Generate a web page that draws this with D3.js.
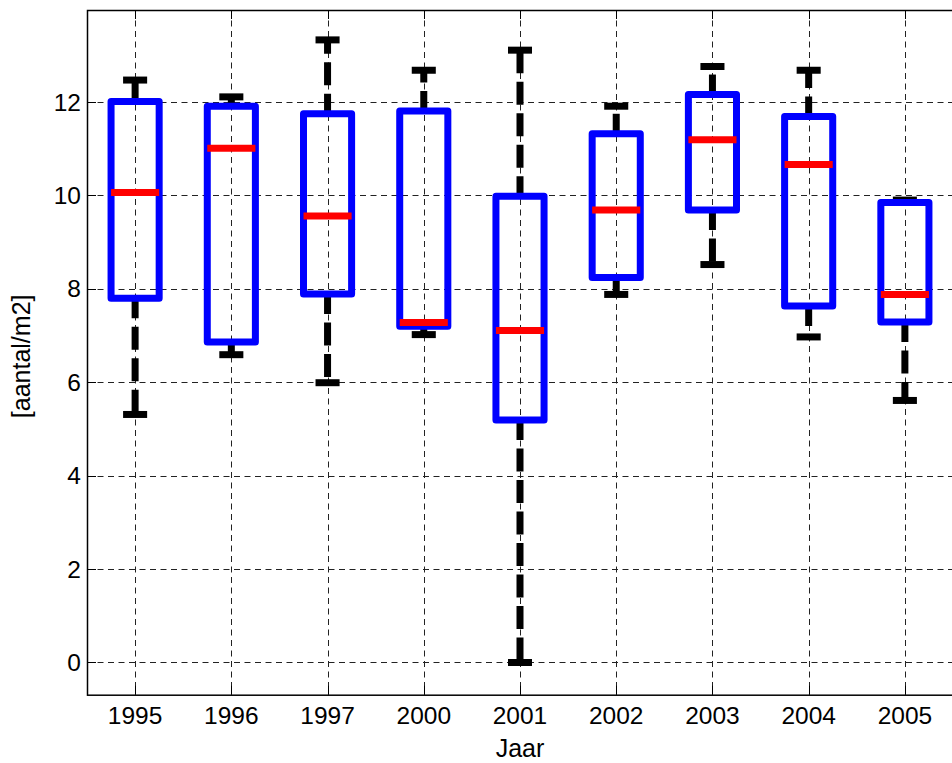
<!DOCTYPE html>
<html lang="en">
<head>
  <meta charset="UTF-8">
  <title>Boxplot aantal/m2</title>
  <script src="https://cdnjs.cloudflare.com/ajax/libs/d3/7.8.5/d3.min.js"></script>
  <style>
    body { margin: 0; background: #fff; }
    text { font-family: "Liberation Sans", Arial, sans-serif; fill: #000; }
  </style>
</head>
<body>
  <svg width="952" height="763"></svg>
  <script>
    // values
    const years = ["1995", "1996", "1997", "2000", "2001", "2002", "2003", "2004", "2005"];
    const upperWhisker = [12.47, 12.11, 13.33, 12.68, 13.11, 11.91, 12.76, 12.68, 9.9];
    const q3 = [12.01, 11.91, 11.75, 11.81, 9.98, 11.32, 12.16, 11.69, 9.85];
    const medians = [10.06, 11.01, 9.56, 7.28, 7.11, 9.69, 11.19, 10.66, 7.88];
    const q1 = [7.80, 6.86, 7.89, 7.20, 5.19, 8.24, 9.69, 7.63, 7.29];
    const lowerWhisker = [5.31, 6.59, 5.99, 7.02, 0, 7.88, 8.52, 6.97, 5.61];
    const yTicks = [0, 2, 4, 6, 8, 10, 12];

    const boxes = years.map((yr, i) => ({
      year: yr, pos: i + 1,
      hi: upperWhisker[i], q3: q3[i], med: medians[i], q1: q1[i], lo: lowerWhisker[i]
    }));

    const svg = d3.select("svg");
    const mLeft = 87, mRight = 953, mTop = 10, mBottom = 694.7;

    const x = d3.scaleLinear().domain([0.5, years.length + 0.5]).range([mLeft, mRight]);
    const y = d3.scaleLinear().domain([-0.69, 13.97]).range([mBottom, mTop]);

    // grid
    const grid = svg.append("g")
      .attr("stroke", "#222").attr("stroke-width", 1).attr("stroke-dasharray", "6,4.5");
    grid.selectAll(".gx").data(boxes).enter().append("line")
      .attr("x1", d => Math.round(x(d.pos)) + 0.5).attr("x2", d => Math.round(x(d.pos)) + 0.5)
      .attr("y1", mTop).attr("y2", mBottom);
    grid.selectAll(".gy").data(yTicks).enter().append("line")
      .attr("y1", d => Math.round(y(d)) + 0.5).attr("y2", d => Math.round(y(d)) + 0.5)
      .attr("x1", mLeft).attr("x2", mRight);

    // ticks (inward, like matlab)
    const tk = svg.append("g").attr("stroke", "#000").attr("stroke-width", 1);
    boxes.forEach(d => {
      const xx = Math.round(x(d.pos)) + 0.5;
      tk.append("line").attr("x1", xx).attr("x2", xx).attr("y1", mBottom).attr("y2", mBottom - 9);
      tk.append("line").attr("x1", xx).attr("x2", xx).attr("y1", mTop).attr("y2", mTop + 9);
    });
    yTicks.forEach(v => {
      const yy = Math.round(y(v)) + 0.5;
      tk.append("line").attr("x1", mLeft).attr("x2", mLeft + 9).attr("y1", yy).attr("y2", yy);
    });

    // axes frame
    svg.append("rect")
      .attr("x", mLeft + 0.5).attr("y", mTop + 0.5)
      .attr("width", mRight - mLeft).attr("height", mBottom - mTop)
      .attr("fill", "none").attr("stroke", "#000").attr("stroke-width", 1.5);

    // tick labels
    svg.append("g").selectAll("text").data(boxes).enter().append("text")
      .attr("x", d => x(d.pos)).attr("y", 724)
      .attr("text-anchor", "middle").attr("font-size", 24.5)
      .text(d => d.year);
    svg.append("g").selectAll("text").data(yTicks).enter().append("text")
      .attr("x", 81).attr("y", d => y(d) + 8.5)
      .attr("text-anchor", "end").attr("font-size", 24.5)
      .text(d => d);

    // axis labels
    svg.append("text")
      .attr("x", (mLeft + mRight) / 2).attr("y", 757)
      .attr("text-anchor", "middle").attr("font-size", 25)
      .text("Jaar");
    svg.append("text")
      .attr("transform", `translate(30,${(mTop + mBottom) / 2 + 4}) rotate(-90)`)
      .attr("text-anchor", "middle").attr("font-size", 25)
      .text("[aantal/m2]");

    const halfBox = (x(1.25) - x(1)), halfCap = halfBox / 2;
    const g = svg.append("g").selectAll("g").data(boxes).enter().append("g");

    // whiskers
    g.append("line")
      .attr("x1", d => x(d.pos)).attr("x2", d => x(d.pos))
      .attr("y1", d => y(d.q3)).attr("y2", d => y(d.hi))
      .attr("stroke", "#000").attr("stroke-width", 7)
      .attr("stroke-dasharray", "23,8.5").attr("stroke-dashoffset", 3);
    g.append("line")
      .attr("x1", d => x(d.pos)).attr("x2", d => x(d.pos))
      .attr("y1", d => y(d.q1)).attr("y2", d => y(d.lo))
      .attr("stroke", "#000").attr("stroke-width", 7)
      .attr("stroke-dasharray", "23,8.5").attr("stroke-dashoffset", 3);

    // caps
    ["hi", "lo"].forEach(k => {
      g.append("line")
        .attr("x1", d => x(d.pos) - halfCap).attr("x2", d => x(d.pos) + halfCap)
        .attr("y1", d => y(d[k])).attr("y2", d => y(d[k]))
        .attr("stroke", "#000").attr("stroke-width", 7);
    });

    // boxes
    g.append("rect")
      .attr("x", d => x(d.pos) - halfBox).attr("width", 2 * halfBox)
      .attr("y", d => y(d.q3)).attr("height", d => y(d.q1) - y(d.q3))
      .attr("fill", "none").attr("stroke", "#0000ff").attr("stroke-width", 7)
      .attr("stroke-linejoin", "round");

    // medians
    g.append("line")
      .attr("x1", d => x(d.pos) - halfBox).attr("x2", d => x(d.pos) + halfBox)
      .attr("y1", d => y(d.med)).attr("y2", d => y(d.med))
      .attr("stroke", "#ff0000").attr("stroke-width", 7);
  </script>
</body>
</html>
